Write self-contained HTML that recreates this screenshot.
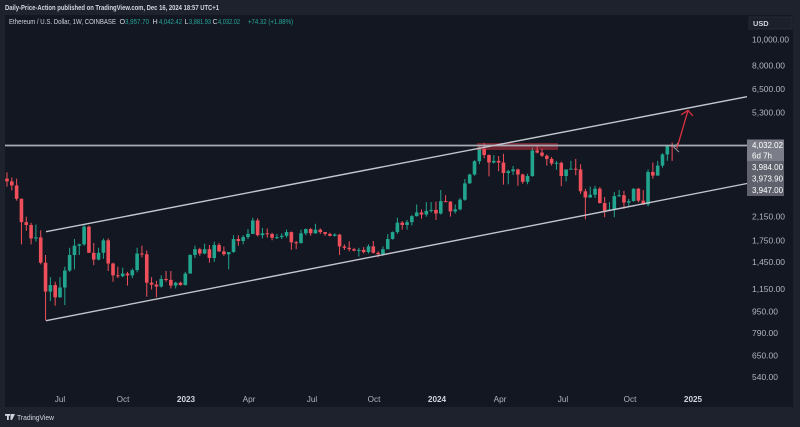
<!DOCTYPE html>
<html><head><meta charset="utf-8"><style>
html,body{margin:0;padding:0;background:#1e222d;width:800px;height:427px;overflow:hidden}
svg{display:block}
text{font-family:"Liberation Sans",sans-serif}
</style></head><body>
<svg id="s" width="800" height="427" viewBox="0 0 800 427" xmlns="http://www.w3.org/2000/svg">
<rect x="0" y="0" width="800" height="427" fill="#1e222d"/>
<rect x="5" y="15" width="788" height="392" fill="#131722"/>
<text x="5" y="10" font-size="7.4" font-weight="bold" fill="#d1d4dc" textLength="214" lengthAdjust="spacingAndGlyphs">Daily-Price-Action published on TradingView.com, Dec 16, 2024 18:57 UTC+1</text>
<g font-size="7.2" fill="#d1d4dc">
<text x="9" y="24" textLength="107" lengthAdjust="spacingAndGlyphs">Ethereum / U.S. Dollar, 1W, COINBASE</text>
<text x="119.5" y="24">O</text><text x="125" y="24" fill="#26a69a" textLength="24" lengthAdjust="spacingAndGlyphs">3,957.70</text>
<text x="152.5" y="24">H</text><text x="159" y="24" fill="#26a69a" textLength="23" lengthAdjust="spacingAndGlyphs">4,042.42</text>
<text x="184.5" y="24">L</text><text x="189" y="24" fill="#26a69a" textLength="22" lengthAdjust="spacingAndGlyphs">3,881.93</text>
<text x="212.5" y="24">C</text><text x="218" y="24" fill="#26a69a" textLength="22" lengthAdjust="spacingAndGlyphs">4,032.02</text>
<text x="248" y="24" fill="#26a69a" textLength="45" lengthAdjust="spacingAndGlyphs">+74.32 (+1.88%)</text>
</g>
<g id="cand"></g>
<rect x="477" y="143" width="81" height="7" fill="#f23645" fill-opacity="0.42"/>
<line x1="5" y1="145.5" x2="747" y2="145.5" stroke="#a9acb4" stroke-width="1.7"/>
<line x1="46" y1="231.7" x2="747" y2="96.7" stroke="#c3c6ce" stroke-width="1.4"/>
<line x1="46" y1="320.7" x2="747" y2="183.5" stroke="#c3c6ce" stroke-width="1.4"/>
<polyline points="679,142 674,147.5 679,152" fill="none" stroke="#9598a1" stroke-width="1"/>
<g stroke="#e0323f" stroke-width="1.3" fill="none" stroke-linecap="round">
<line x1="677" y1="148" x2="688" y2="110.5"/>
<polyline points="681.5,114.5 688,110.5 692.5,115.5"/>
</g>
<rect x="749" y="17" width="43" height="12" fill="#1c202b" stroke="#2a2e39" stroke-width="0.8"/>
<text x="753" y="26" font-size="7.4" font-weight="bold" fill="#d1d4dc">USD</text>
<g font-size="8.2" fill="#b2b5be">
<text x="752" y="42.5" textLength="37" lengthAdjust="spacingAndGlyphs">10,000.00</text>
<text x="752" y="68.5" textLength="33" lengthAdjust="spacingAndGlyphs">8,000.00</text>
<text x="752" y="92" textLength="33" lengthAdjust="spacingAndGlyphs">6,500.00</text>
<text x="752" y="115.5" textLength="33" lengthAdjust="spacingAndGlyphs">5,300.00</text>
<text x="752" y="219.5" textLength="33" lengthAdjust="spacingAndGlyphs">2,150.00</text>
<text x="752" y="243.5" textLength="33" lengthAdjust="spacingAndGlyphs">1,750.00</text>
<text x="752" y="265" textLength="33" lengthAdjust="spacingAndGlyphs">1,450.00</text>
<text x="752" y="292" textLength="33" lengthAdjust="spacingAndGlyphs">1,150.00</text>
<text x="752" y="314.5" textLength="26" lengthAdjust="spacingAndGlyphs">950.00</text>
<text x="752" y="336" textLength="26" lengthAdjust="spacingAndGlyphs">790.00</text>
<text x="752" y="358.5" textLength="26" lengthAdjust="spacingAndGlyphs">650.00</text>
<text x="752" y="380" textLength="26" lengthAdjust="spacingAndGlyphs">540.00</text>
</g>
<rect x="747" y="139.5" width="37" height="21.5" fill="#7b7e89"/>
<rect x="747" y="161" width="37" height="35" fill="#5f626d"/>
<g font-size="8.2" fill="#ffffff">
<text x="752" y="148" textLength="31" lengthAdjust="spacingAndGlyphs">4,032.02</text>
<text x="752" y="158.5" textLength="20" lengthAdjust="spacingAndGlyphs">6d 7h</text>
<text x="752" y="170" textLength="31" lengthAdjust="spacingAndGlyphs">3,984.00</text>
<text x="752" y="181.5" textLength="31" lengthAdjust="spacingAndGlyphs">3,973.90</text>
<text x="752" y="193" textLength="31" lengthAdjust="spacingAndGlyphs">3,947.00</text>
</g>
<g font-size="8.2" fill="#b2b5be" text-anchor="middle">
<text x="60" y="402">Jul</text>
<text x="123" y="402">Oct</text>
<text x="186" y="402" font-weight="bold" fill="#d1d4dc">2023</text>
<text x="249" y="402">Apr</text>
<text x="312" y="402">Jul</text>
<text x="374" y="402">Oct</text>
<text x="437" y="402" font-weight="bold" fill="#d1d4dc">2024</text>
<text x="500" y="402">Apr</text>
<text x="563" y="402">Jul</text>
<text x="630" y="402">Oct</text>
<text x="693" y="402" font-weight="bold" fill="#d1d4dc">2025</text>
</g>
<g fill="#d1d4dc">
<rect x="5" y="414" width="5" height="1.8"/><rect x="7" y="414" width="1.8" height="6"/>
<polygon points="10.5,414 15,414 12,420 10.5,420"/>
<text x="17" y="420" font-size="7.4" textLength="37" lengthAdjust="spacingAndGlyphs">TradingView</text>
</g>
</svg>
<script>
var d=[[3000,3170,2800,2930],[2930,3030,2710,2830],[2830,3000,2480,2520],[2520,2530,1700,2060],[2060,2160,1910,2010],[2010,2050,1700,1790],[1790,2016,1740,1805],[1805,1920,1430,1450],[1450,1550,880,1130],[1130,1280,1040,1195],[1195,1230,1000,1075],
[1075,1280,1070,1170],[1170,1400,1005,1355],[1355,1650,1340,1550],[1550,1780,1370,1680],[1680,1710,1550,1700],[1700,2020,1680,1980],[1980,2000,1580,1580],[1580,1720,1420,1490],[1490,1650,1480,1580],[1580,1790,1500,1760],[1760,1790,1350,1440],[1440,1450,1230,1300],[1300,1400,1270,1290],[1290,1390,1280,1320],[1320,1340,1190,1300],[1300,1380,1270,1360],[1360,1650,1335,1570],[1570,1680,1520,1560],[1560,1610,1080,1220],[1220,1280,1150,1200],[1200,1240,1075,1180],[1180,1300,1170,1260],[1260,1350,1230,1250],[1250,1350,1160,1190],[1190,1230,1160,1220],[1220,1230,1190,1195],
[1195,1340,1190,1320],[1320,1560,1320,1550],[1550,1680,1510,1630],[1630,1650,1540,1570],[1570,1710,1560,1630],[1630,1690,1450,1510],[1510,1740,1460,1690],[1690,1720,1590,1600],[1600,1670,1540,1560],[1560,1580,1370,1590],[1590,1840,1580,1780],[1780,1840,1680,1750],[1750,1840,1700,1810],[1810,1940,1780,1860],[1860,2140,1860,2090],[2090,2130,1820,1840],[1840,1960,1790,1870],[1870,1950,1800,1860],[1860,1880,1760,1800],[1800,1860,1780,1810],[1810,1870,1780,1830],[1830,1930,1800,1890],[1890,1900,1620,1730],[1730,1750,1630,1720],[1720,1930,1710,1870],[1870,1950,1840,1940],[1940,1960,1830,1870],[1870,2030,1860,1930],[1930,1950,1860,1890],[1890,1890,1830,1860],[1860,1880,1820,1830],[1830,1870,1820,1850],[1850,1860,1550,1670],[1670,1700,1620,1650],[1650,1745,1600,1630],[1630,1650,1600,1610],[1610,1650,1530,1620],[1620,1660,1570,1590],[1590,1700,1570,1670],[1670,1750,1570,1580],[1580,1600,1520,1560],[1560,1670,1540,1630],[1630,1860,1630,1780],[1780,1900,1770,1890],[1890,2140,1860,2050],[2050,2080,1930,2010],[2010,2100,1930,2060],[2060,2190,2000,2170],[2170,2400,2160,2240],[2240,2300,2120,2200],[2200,2450,2160,2270],[2270,2450,2240,2290],
[2290,2460,2100,2220],[2220,2720,2200,2470],[2470,2600,2450,2460],[2460,2470,2160,2260],[2260,2400,2220,2300],[2300,2540,2280,2500],[2500,2990,2480,2880],[2880,3130,2870,3110],[3110,3520,3080,3490],[3490,3990,3400,3880],[3880,4090,3580,3680],[3680,3700,3060,3450],[3450,3680,3420,3500],[3500,3650,3200,3450],[3450,3720,2850,3150],[3150,3240,2860,3200],[3200,3350,3100,3250],[3250,3270,2820,3110],[3110,3130,2870,2920],[2920,3130,2860,3070],[3070,3940,3050,3830],[3830,3970,3730,3760],[3760,3890,3620,3660],[3660,3700,3360,3560],[3560,3620,3360,3420],[3420,3500,3240,3440],[3440,3480,2810,3070],[3070,3200,2930,3250],[3250,3500,3250,3270],[3270,3560,3090,3250],[3250,3400,2630,2690],[2690,2750,2110,2550],[2550,2800,2540,2610],[2610,2820,2540,2750],[2750,2790,2420,2430],[2430,2560,2150,2270],[2270,2450,2270,2300],[2300,2670,2150,2580],[2580,2720,2560,2600],[2600,2700,2310,2440],[2440,2520,2360,2470],[2470,2760,2460,2750],[2750,2770,2440,2480],[2480,2720,2390,2400],[2400,3250,2360,3180],[3180,3450,3000,3080],[3080,3500,3080,3360],[3360,3740,3300,3700],[3700,4000,3500,3990],[3990,4100,3500,3960],[3957.7,4042.4,3881.9,4032]];
function Y(p){return 39.5+115.6*(9.2103-Math.log(p));}
var g=document.getElementById('cand'),h='';
for(var k=0;k<d.length;k++){var i=k-11,x=60+4.82*i,o=d[k][0],hi=d[k][1],lo=d[k][2],c=d[k][3];
var col=c>=o?'#22a58e':'#ef4f5a';var yt=Y(Math.max(o,c)),yb=Y(Math.min(o,c)),bh=Math.max(1,yb-yt);
h+='<rect x="'+(x-0.5).toFixed(2)+'" y="'+Y(hi).toFixed(2)+'" width="1" height="'+(Y(lo)-Y(hi)).toFixed(2)+'" fill="'+col+'"/>';
h+='<rect x="'+(x-1.8).toFixed(2)+'" y="'+yt.toFixed(2)+'" width="3.6" height="'+bh.toFixed(2)+'" fill="'+col+'"/>';}
g.innerHTML=h;
</script>
</body></html>
